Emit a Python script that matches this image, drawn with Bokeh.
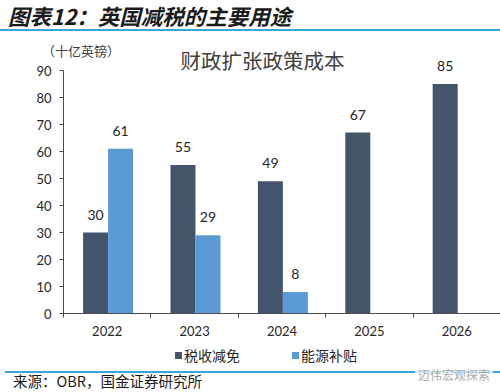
import numpy as np
from bokeh.plotting import figure
from bokeh.layouts import column
from bokeh.models import ColumnDataSource, FixedTicker, Label, Div, Range1d
from bokeh.core.properties import value
from bokeh.embed import file_html
from bokeh.resources import INLINE

# ---- data ----
years = ["2022", "2023", "2024", "2025", "2026"]
tax_cuts = [30, 55, 49, 67, 85]            # 税收减免
energy_subsidy = [61, 29, 8, None, None]   # 能源补贴
series_names = ["税收减免", "能源补贴"]
y_ticks = [0, 10, 20, 30, 40, 50, 60, 70, 80, 90]
y_max = 90

DARK = "#44546A"
LIGHT = "#5B9BD5"
RULE = "#3AA6D8"
CJK = "Noto Sans CJK SC"
NUM = "Lato"
TXT = "#262626"
W = 500
FONT_CSS = "font-family:'Noto Sans CJK SC';white-space:nowrap;position:absolute;"

# ---- header (page y 0-58, overlapping the transparent chart by 16px) ----
HH, OVER = 58, 16
header = Div(width=W, height=HH, margin=(0, 0, -OVER, 0),
             styles={"margin-bottom": f"-{OVER}px"}, text=(
    f'<div style="position:relative;width:{W}px;height:{HH}px;margin:0;padding:0;">'
    f'<div style="{FONT_CSS}left:8px;top:0px;line-height:31px;font-size:21.5px;'
    'font-weight:bold;font-style:italic;color:#1a1a1a;">图表12：英国减税的主要用途</div>'
    f'<div style="position:absolute;left:0;top:29px;width:{W}px;height:2px;background:{RULE};"></div>'
    f'<div style="{FONT_CSS}left:42px;top:42px;line-height:18px;font-size:13px;'
    'color:#404040;">（十亿英镑）</div>'
    '</div>'))

# ---- main chart (page y 42-343) ----
MT, MB = HH - OVER, 343
FT, FB = 42, 313
FL = 63
y_end = y_max * (FB - FT) / (FB - 70)

p = figure(width=W, height=MB - MT, output_backend="svg", toolbar_location=None,
           x_range=Range1d(0, len(years)), y_range=Range1d(0, y_end),
           min_border_left=FL, min_border_right=0, min_border_top=FT - MT,
           min_border_bottom=MB - FB, title_location=None)
p.outline_line_color = None
p.grid.visible = False
p.background_fill_alpha = 0
p.border_fill_alpha = 0

idx = np.arange(len(years))
bw = 0.286
x_dark = idx + 0.5 - bw / 2 + 0.01
x_light = idx + 0.5 + bw / 2 + 0.01
e_vals = np.array([np.nan if v is None else v for v in energy_subsidy], dtype=float)
mask = ~np.isnan(e_vals)

src_d = ColumnDataSource(dict(x=x_dark, top=tax_cuts, lab=[str(v) for v in tax_cuts]))
src_l = ColumnDataSource(dict(x=x_light[mask], top=e_vals[mask],
                              lab=[str(int(v)) for v in e_vals[mask]]))

p.vbar(x="x", top="top", width=bw, source=src_d, fill_color=DARK, line_color=None)
p.vbar(x="x", top="top", width=bw, source=src_l, fill_color=LIGHT, line_color=None)

for s in (src_d, src_l):
    p.text(x="x", y="top", text="lab", source=s, text_align="center",
           text_baseline="bottom", y_offset=-13, text_font=value(NUM),
           text_font_size="14px", text_color=TXT)

xa = p.xaxis[0]
xa.ticker = FixedTicker(ticks=list(idx + 0.5), minor_ticks=list(range(len(years) + 1)))
xa.major_label_overrides = {float(i + 0.5): y for i, y in enumerate(years)}
xa.major_tick_line_color = None
xa.major_tick_out = 4
xa.major_tick_in = 0
xa.minor_tick_out = 4
xa.minor_tick_in = 0
xa.minor_tick_line_color = "#4d4d4d"
xa.axis_line_color = "#4d4d4d"
xa.major_label_text_font = NUM
xa.major_label_text_font_size = "13px"
xa.major_label_text_color = TXT
xa.major_label_standoff = 8

ya = p.yaxis[0]
ya.ticker = FixedTicker(ticks=y_ticks)
ya.bounds = (0, y_max)
ya.major_tick_out = 4
ya.major_tick_in = 0
ya.minor_tick_line_color = None
ya.axis_line_color = "#4d4d4d"
ya.major_tick_line_color = "#4d4d4d"
ya.major_label_text_font = NUM
ya.major_label_text_font_size = "13px"
ya.major_label_text_color = TXT
ya.major_label_standoff = 8

# chart title inside the frame
p.add_layout(Label(x=180 - FL, y=FB - 59, x_units="screen", y_units="screen",
                   text="财政扩张政策成本", text_font=CJK, text_font_size="20.5px",
                   text_color="#404040", text_baseline="middle"))

# ---- footer (page y 343-392): legend, rule, source ----
FH = 392 - MB
sq = 'position:absolute;width:7px;height:7px;top:4px;'
footer = Div(width=W, height=FH, text=(
    f'<div style="position:relative;width:{W}px;height:{FH}px;margin:0;padding:0;">'
    f'<div style="{sq}left:170px;background:{DARK};"></div>'
    f'<div style="{FONT_CSS}left:179px;top:-3px;line-height:20px;font-size:14px;color:{TXT};">{series_names[0]}</div>'
    f'<div style="{sq}left:287px;background:{LIGHT};"></div>'
    f'<div style="{FONT_CSS}left:296px;top:-3px;line-height:20px;font-size:14px;color:{TXT};">{series_names[1]}</div>'
    f'<div style="position:absolute;left:0;top:23px;width:{W}px;height:2px;background:{RULE};"></div>'
    f'<div style="{FONT_CSS}left:8px;top:22px;line-height:21px;font-size:14.5px;color:#1a1a1a;">'
    '来源：OBR，国金证券研究所</div>'
    f'<div style="{FONT_CSS}left:410px;top:20px;line-height:14px;padding:0 3px;font-size:12px;'
    'color:#a8a8a8;background:rgba(255,255,255,0.75);">迈伟宏观探索</div>'
    '</div>'))

layout = column(header, p, footer, spacing=0)
open("out.html", "w").write(file_html(layout, INLINE))
